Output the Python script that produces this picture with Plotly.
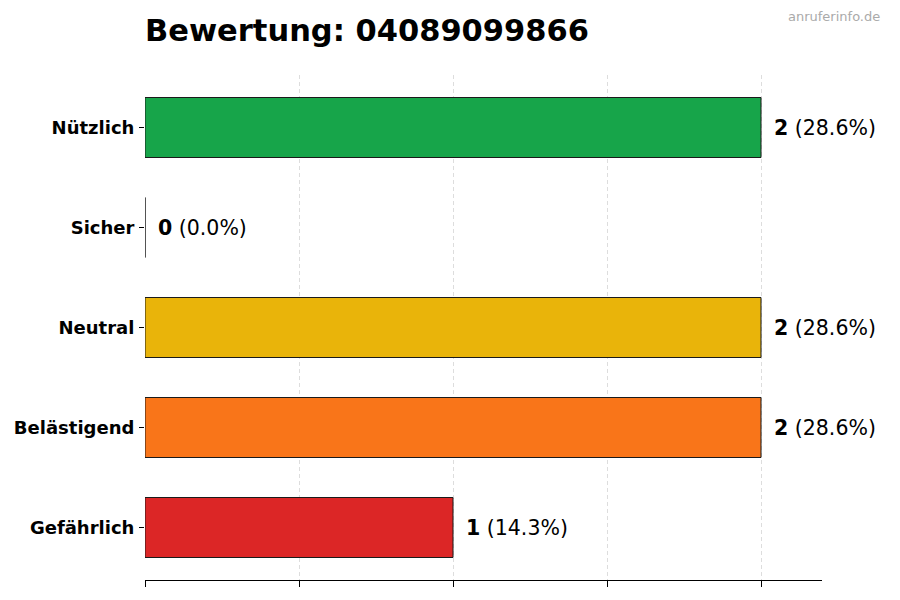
import plotly.graph_objects as go

# Bewertungen, von oben nach unten
categories = ['Nützlich', 'Sicher', 'Neutral', 'Belästigend', 'Gefährlich']
counts = [2, 0, 2, 2, 1]
colors = ['#17a54a', '#2563eb', '#e9b40a', '#f97519', '#dc2626']
number = '04089099866'

total = sum(counts)
fig = go.Figure()
fig.add_trace(go.Bar(
    x=counts,
    y=categories,
    orientation='h',
    width=0.6,
    marker=dict(color=colors, line=dict(color='#1a1a1a', width=1)),
    hoverinfo='skip',
))

# Werte rechts neben den Balken
for cat, n in zip(categories, counts):
    pct = n / total * 100
    fig.add_annotation(
        x=n, y=cat, xref='x', yref='y',
        text=f'<b>{n}</b> ({pct:.1f}%)',
        showarrow=False, xanchor='left', yanchor='middle',
        xshift=11, font=dict(size=20.5, color='black'),
    )

# Seite hat 8px Rand, daher Breite/Hoehe und Raender angepasst
W, H = 892, 592
L, R, T, B = 137, 78, 67, 20
pw, ph = W - L - R, H - T - B

fig.add_annotation(
    x=(882 - 8 - L) / pw, y=1 + (75 - 17) / ph, xref='paper', yref='paper',
    text='anruferinfo.de', showarrow=False, xanchor='right', yanchor='middle',
    font=dict(size=13, color='#aaaaaa'),
)

fig.update_layout(
    width=W, height=H,
    margin=dict(l=L, r=R, t=T, b=B),
    paper_bgcolor='white', plot_bgcolor='white',
    font=dict(family='DejaVu Sans', color='black'),
    title=dict(text=f'<b>Bewertung: {number}</b>', x=L / W, xanchor='left',
               y=1 - 22 / H, yanchor='middle', font=dict(size=30.5)),
    showlegend=False,
)
fig.update_xaxes(
    range=[0, 2.198], tickvals=[0, 0.5, 1, 1.5, 2], showticklabels=False,
    ticks='outside', ticklen=6, tickcolor='black',
    showline=True, linecolor='black', linewidth=1,
    showgrid=True, gridcolor='#dddddd', griddash='4px,3px', gridwidth=1,
    zeroline=False, automargin=False,
)
fig.update_yaxes(
    range=[4.525, -0.525], ticks='outside', ticklen=5, tickcolor='black',
    showline=False, showgrid=False, zeroline=False, automargin=False,
    tickfont=dict(size=18), ticklabelstandoff=1,
    ticktext=[f'<b>{c}</b>' for c in categories], tickvals=categories,
)

fig.write_html('out.html')
